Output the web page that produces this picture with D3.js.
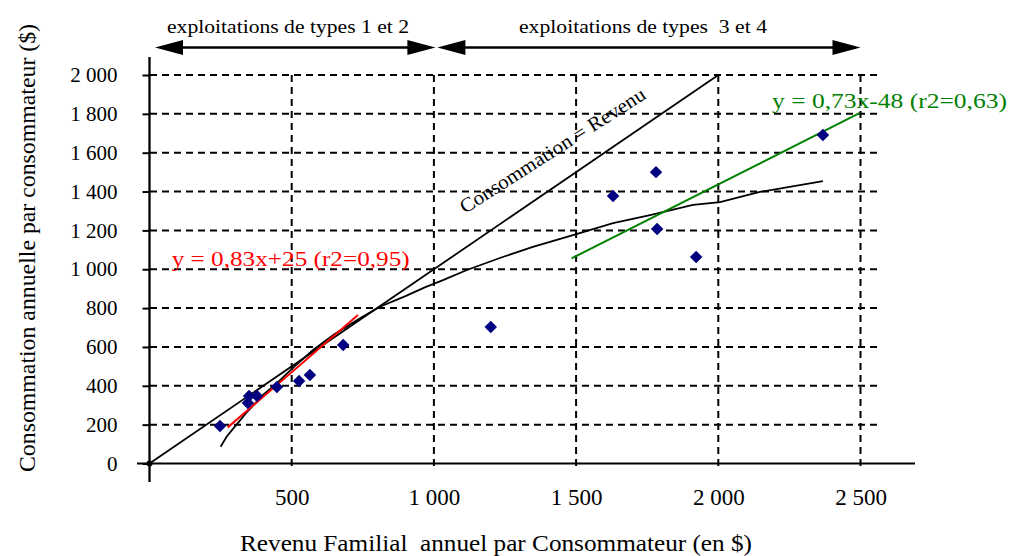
<!DOCTYPE html>
<html><head><meta charset="utf-8">
<script src="https://cdn.jsdelivr.net/npm/d3@7"></script>
<style>
body{margin:0;background:#fff}
svg{display:block}
text{font-family:"Liberation Serif","Times New Roman",serif}
</style>
</head><body>
<svg id="c" width="1009" height="556"></svg>
<script>
// ---- data ----
const revenu       = [248, 350, 378, 346, 448, 526, 564, 681, 1200, 1630, 1781, 1785, 1922, 2368];
const consommation = [193, 347, 347, 311, 394, 425, 456, 610,  703, 1377, 1500, 1207, 1063, 1691];

const curveRevenu = [250, 271, 295, 340, 400, 448, 510, 575, 650, 740, 810, 900, 970, 1032, 1116, 1232, 1348, 1489, 1630, 1760, 1911, 2006, 2146, 2368];
const curveConso  = [ 86, 138, 181, 260, 355, 414, 500, 584, 665, 747, 807, 862, 908,  944,  996, 1058, 1115, 1176, 1238, 1279, 1331, 1346, 1398, 1454];

const identityX = [0, 2000], identityY = [0, 2000];
const redX = [275, 733],     redY = [186, 764];
const greenX = [1484, 2498], greenY = [1056, 1805];

const xTicks = [500, 1000, 1500, 2000, 2500];
const xTickLabels = ["500", "1 000", "1 500", "2 000", "2 500"];
const yTicks = [0, 200, 400, 600, 800, 1000, 1200, 1400, 1600, 1800, 2000];
const yTickLabels = ["0", "200", "400", "600", "800", "1 000", "1 200", "1 400", "1 600", "1 800", "2 000"];

const groupLabels = ["exploitations de types 1 et 2", "exploitations de types  3 et 4"];
const groupFrom = [0, 1000], groupTo = [1000, 2500];

const redLabel = "y = 0,83x+25 (r2=0,95)";
const greenLabel = "y = 0,73x-48 (r2=0,63)";
const identityLabel = "Consommation = Revenu";
const xTitle = "Revenu Familial  annuel par Consommateur (en $)";
const yTitle = "Consommation annuelle par consommateur ($)";

// ---- drawing ----
const svg = d3.select("#c");
const x = d3.scaleLinear().domain([0, 2500]).range([149.5, 860.5]);
const y = d3.scaleLinear().domain([0, 2000]).range([463.5, 75]);

// grid
svg.append("g").selectAll("line").data(yTicks.filter(d => d > 0)).join("line")
  .attr("x1", 150).attr("x2", 878).attr("y1", d => y(d)).attr("y2", d => y(d))
  .attr("stroke", "#000").attr("stroke-width", 2).attr("stroke-dasharray", "7,5");
svg.append("g").selectAll("line").data(xTicks).join("line")
  .attr("x1", d => x(d)).attr("x2", d => x(d)).attr("y1", y(2000)).attr("y2", 471)
  .attr("stroke", "#000").attr("stroke-width", 2).attr("stroke-dasharray", "7,5");

// axes
const yAxis = d3.axisLeft(y).tickValues(yTicks).tickFormat((d, i) => yTickLabels[i]).tickSize(7).tickPadding(25);
const gy = svg.append("g").attr("transform", `translate(${x(0)},0)`).call(yAxis);
gy.select(".domain").remove();
gy.selectAll(".tick line").attr("stroke-width", 2);
gy.selectAll("text").attr("font-size", 21).attr("fill", "#000").style("font-family", '"Liberation Serif",serif');

const xAxis = d3.axisBottom(x).tickValues(xTicks).tickFormat((d, i) => xTickLabels[i]).tickSize(0).tickPadding(25);
const gx = svg.append("g").attr("transform", `translate(0,${y(0)})`).call(xAxis);
gx.select(".domain").remove();
gx.selectAll("text").attr("font-size", 23).attr("fill", "#000").style("font-family", '"Liberation Serif",serif');

svg.append("line").attr("x1", x(0)).attr("x2", x(0)).attr("y1", 57).attr("y2", 482)
  .attr("stroke", "#000").attr("stroke-width", 2.3);
svg.append("line").attr("x1", 137).attr("x2", 915).attr("y1", y(0)).attr("y2", y(0))
  .attr("stroke", "#000").attr("stroke-width", 2);

// lines
const line = d3.line().x(d => x(d[0])).y(d => y(d[1]));
svg.append("path").attr("d", line(d3.zip(identityX, identityY)))
  .attr("fill", "none").attr("stroke", "#000").attr("stroke-width", 1.8);
svg.append("path").attr("d", line(d3.zip(curveRevenu, curveConso)))
  .attr("fill", "none").attr("stroke", "#000").attr("stroke-width", 1.8);
svg.append("path").attr("d", line(d3.zip(redX, redY)))
  .attr("fill", "none").attr("stroke", "#ff0000").attr("stroke-width", 2);
svg.append("path").attr("d", line(d3.zip(greenX, greenY)))
  .attr("fill", "none").attr("stroke", "#008000").attr("stroke-width", 2);
svg.append("circle").attr("cx", x(0)).attr("cy", y(0)).attr("r", 3).attr("fill", "#000");

// points
const diamond = d3.symbol(d3.symbolSquare, 78);
svg.append("g").selectAll("path").data(d3.zip(revenu, consommation)).join("path")
  .attr("d", diamond)
  .attr("transform", d => `translate(${x(d[0])},${y(d[1])}) rotate(45)`)
  .attr("fill", "#000080");

// group arrows
const head = 28, hw = 7.5;
groupLabels.forEach((lab, i) => {
  const xa = x(groupFrom[i]) + (i === 0 ? 5.5 : 3.5);
  const xb = x(groupTo[i]) + (i === 0 ? 1.5 : 0);
  const ya = 47.5;
  svg.append("line").attr("x1", xa + 5).attr("x2", xb - 5).attr("y1", ya).attr("y2", ya)
    .attr("stroke", "#000").attr("stroke-width", 2.5);
  svg.append("path").attr("d", `M${xa},${ya}L${xa + head},${ya - hw}L${xa + head},${ya + hw}Z`).attr("fill", "#000");
  svg.append("path").attr("d", `M${xb},${ya}L${xb - head},${ya - hw}L${xb - head},${ya + hw}Z`).attr("fill", "#000");
  svg.append("text").attr("x", i === 0 ? 288 : 643).attr("y", 32.5)
    .attr("text-anchor", "middle").attr("font-size", 18.5)
    .attr("textLength", i === 0 ? 242 : 248).attr("lengthAdjust", "spacingAndGlyphs")
    .style("white-space", "pre").text(lab);
});

// annotations
svg.append("text").attr("x", 171.7).attr("y", 266).attr("font-size", 22).attr("fill", "#ff0000")
  .attr("textLength", 238).attr("lengthAdjust", "spacingAndGlyphs").text(redLabel);
svg.append("text").attr("x", 772).attr("y", 108).attr("font-size", 22).attr("fill", "#008000")
  .attr("textLength", 235).attr("lengthAdjust", "spacingAndGlyphs").text(greenLabel);
svg.append("text").attr("transform", "translate(465,214) rotate(-32.5)").attr("font-size", 20)
  .attr("textLength", 216).attr("lengthAdjust", "spacingAndGlyphs").text(identityLabel);

// titles
svg.append("text").attr("x", 496).attr("y", 551).attr("text-anchor", "middle").attr("font-size", 24)
  .attr("textLength", 512).attr("lengthAdjust", "spacingAndGlyphs").style("white-space", "pre").text(xTitle);
svg.append("text").attr("transform", "translate(35,248) rotate(-90)").attr("text-anchor", "middle").attr("font-size", 24)
  .attr("textLength", 448).attr("lengthAdjust", "spacingAndGlyphs").text(yTitle);
</script>
</body></html>
